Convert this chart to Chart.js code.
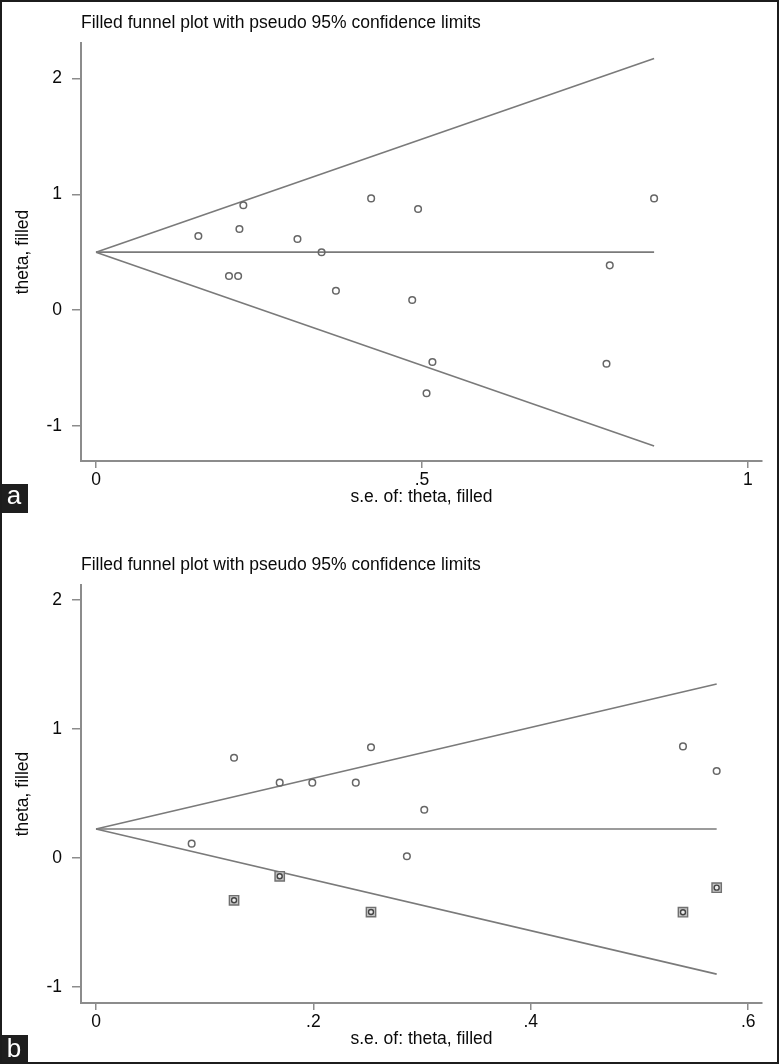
<!DOCTYPE html>
<html>
<head>
<meta charset="utf-8">
<title>Filled funnel plots</title>
<script src="https://cdn.jsdelivr.net/npm/chart.js@4.4.1/dist/chart.umd.min.js"></script>
<style>
  html, body { margin: 0; padding: 0; background: #fff; }
  #page { position: relative; width: 779px; height: 1064px; overflow: hidden; background: #fff; }
  #page canvas { position: absolute; left: 0; }
  #frame { position: absolute; left: 0; top: 0; right: 0; bottom: 0; border: 2px solid #1c1c1c; pointer-events: none; }
  .tag { position: absolute; left: 0; width: 28px; height: 29px; background: #1e1e1e; color: #fff;
         font-family: 'Liberation Sans', Arial, sans-serif; font-size: 26px; text-align: center; }
</style>
</head>
<body>
<div id="page">
  <canvas id="plotA" width="779" height="522" style="top:0"></canvas>
  <canvas id="plotB" width="779" height="522" style="top:542px"></canvas>
  <div class="tag" style="top:484px; line-height:23px">a</div>
  <div class="tag" style="top:1035px; line-height:27px">b</div>
  <div id="frame"></div>
</div>
<script>
// panel a: observed studies
const seA = [0.157, 0.226, 0.220, 0.204, 0.218, 0.309, 0.346, 0.368, 0.422, 0.494, 0.485, 0.516, 0.507, 0.788, 0.783, 0.856];
const thetaA = [0.64, 0.905, 0.70, 0.294, 0.294, 0.614, 0.499, 0.167, 0.965, 0.873, 0.086, -0.449, -0.72, 0.386, -0.464, 0.965];
// panel a: pseudo 95% limits (apex and far end)
const limitSeA = [0, 0.856];
const upperA = [0.5, 2.175];
const centerA = [0.5, 0.5];
const lowerA = [0.5, -1.175];
const xTicksA = [0, 0.5, 1];

// panel b: observed studies
const seB = [0.088, 0.127, 0.169, 0.199, 0.239, 0.253, 0.286, 0.302, 0.540, 0.571];
const thetaB = [0.111, 0.777, 0.584, 0.584, 0.584, 0.858, 0.013, 0.374, 0.865, 0.674];
// panel b: filled (imputed) studies
const fillSeB = [0.127, 0.169, 0.253, 0.540, 0.571];
const fillThetaB = [-0.328, -0.142, -0.419, -0.42, -0.23];
const limitSeB = [0, 0.571];
const upperB = [0.225, 1.349];
const centerB = [0.225, 0.225];
const lowerB = [0.225, -0.90];
const xTicksB = [0, 0.2, 0.4, 0.6];

const yTicks = [-1, 0, 1, 2];

const txt = '#0a0a0a';
const axisGrey = '#8c8c8c';
const lineGrey = '#7a7a7a';
const font = { family: "'Liberation Sans', Arial, sans-serif", size: 17.5, weight: 'normal' };

function pts(xs, ys) { return xs.map((x, i) => ({ x: x, y: ys[i] })); }
function fmt(v) { return String(Math.round(v * 100) / 100).replace(/^(-?)0\./, '$1.'); }

function limitLine(xs, ys) {
  return { data: pts(xs, ys), showLine: true, borderColor: lineGrey, borderWidth: 1.6, pointRadius: 0, order: 5 };
}

function funnelChart(id, o) {
  const datasets = [
    { data: pts(o.se, o.theta), pointStyle: 'circle', pointRadius: 3.3, borderColor: '#666', borderWidth: 1.5, backgroundColor: 'rgba(0,0,0,0)', order: 1 },
    limitLine(o.limitSe, o.upper),
    limitLine(o.limitSe, o.center),
    limitLine(o.limitSe, o.lower)
  ];
  if (o.fillSe) {
    datasets.push({ data: pts(o.fillSe, o.fillTheta), pointStyle: 'circle', pointRadius: 2.5, borderColor: '#444', borderWidth: 1.4, backgroundColor: '#eee', order: 2 });
    datasets.push({ data: pts(o.fillSe, o.fillTheta), pointStyle: 'rect', pointRadius: 6.6, borderColor: '#707070', borderWidth: 1.4, backgroundColor: '#c4c4c4', order: 3 });
  }

  new Chart(document.getElementById(id), {
    type: 'scatter',
    data: { datasets: datasets },
    options: {
      responsive: false, animation: false, devicePixelRatio: 1,
      layout: { padding: { top: 0, left: 13, right: 17, bottom: 14 } },
      plugins: {
        legend: { display: false }, tooltip: { enabled: false },
        title: {
          display: true, text: 'Filled funnel plot with pseudo 95% confidence limits',
          align: 'start', fullSize: false, color: txt, font: font, padding: { top: 12.5, bottom: 9.5 }
        }
      },
      scales: {
        x: {
          type: 'linear', min: o.xMin, max: o.xMax,
          afterBuildTicks: s => { s.ticks = o.xTicks.map(v => ({ value: v })); },
          afterFit: s => { s.height = 47; },
          grid: { drawOnChartArea: false, color: axisGrey, tickLength: 7, lineWidth: 1.5 },
          border: { color: axisGrey, width: 2 },
          ticks: { color: txt, font: font, padding: 2, maxRotation: 0, autoSkip: false, callback: fmt },
          title: { display: true, text: 's.e. of: theta, filled', color: txt, font: font, padding: { top: 0, bottom: 0 } }
        },
        y: {
          type: 'linear', min: o.yMin, max: o.yMax,
          afterBuildTicks: s => { s.ticks = yTicks.map(v => ({ value: v })); },
          afterFit: s => { s.width = 68; },
          grid: { drawOnChartArea: false, color: axisGrey, tickLength: 9, lineWidth: 1.5 },
          border: { color: axisGrey, width: 2 },
          ticks: { color: txt, font: font, padding: 10, autoSkip: false, callback: fmt },
          title: { display: true, text: 'theta, filled', color: txt, font: font, padding: { top: 0, bottom: 0 } }
        }
      }
    }
  });
}

funnelChart('plotA', {
  se: seA, theta: thetaA, limitSe: limitSeA, upper: upperA, center: centerA, lower: lowerA,
  xTicks: xTicksA, xMin: -0.023, xMax: 1.0215, yMin: -1.305, yMax: 2.308
});
funnelChart('plotB', {
  se: seB, theta: thetaB, fillSe: fillSeB, fillTheta: fillThetaB,
  limitSe: limitSeB, upper: upperB, center: centerB, lower: lowerB,
  xTicks: xTicksB, xMin: -0.0138, xMax: 0.6127, yMin: -1.124, yMax: 2.116
});
</script>
</body>
</html>
